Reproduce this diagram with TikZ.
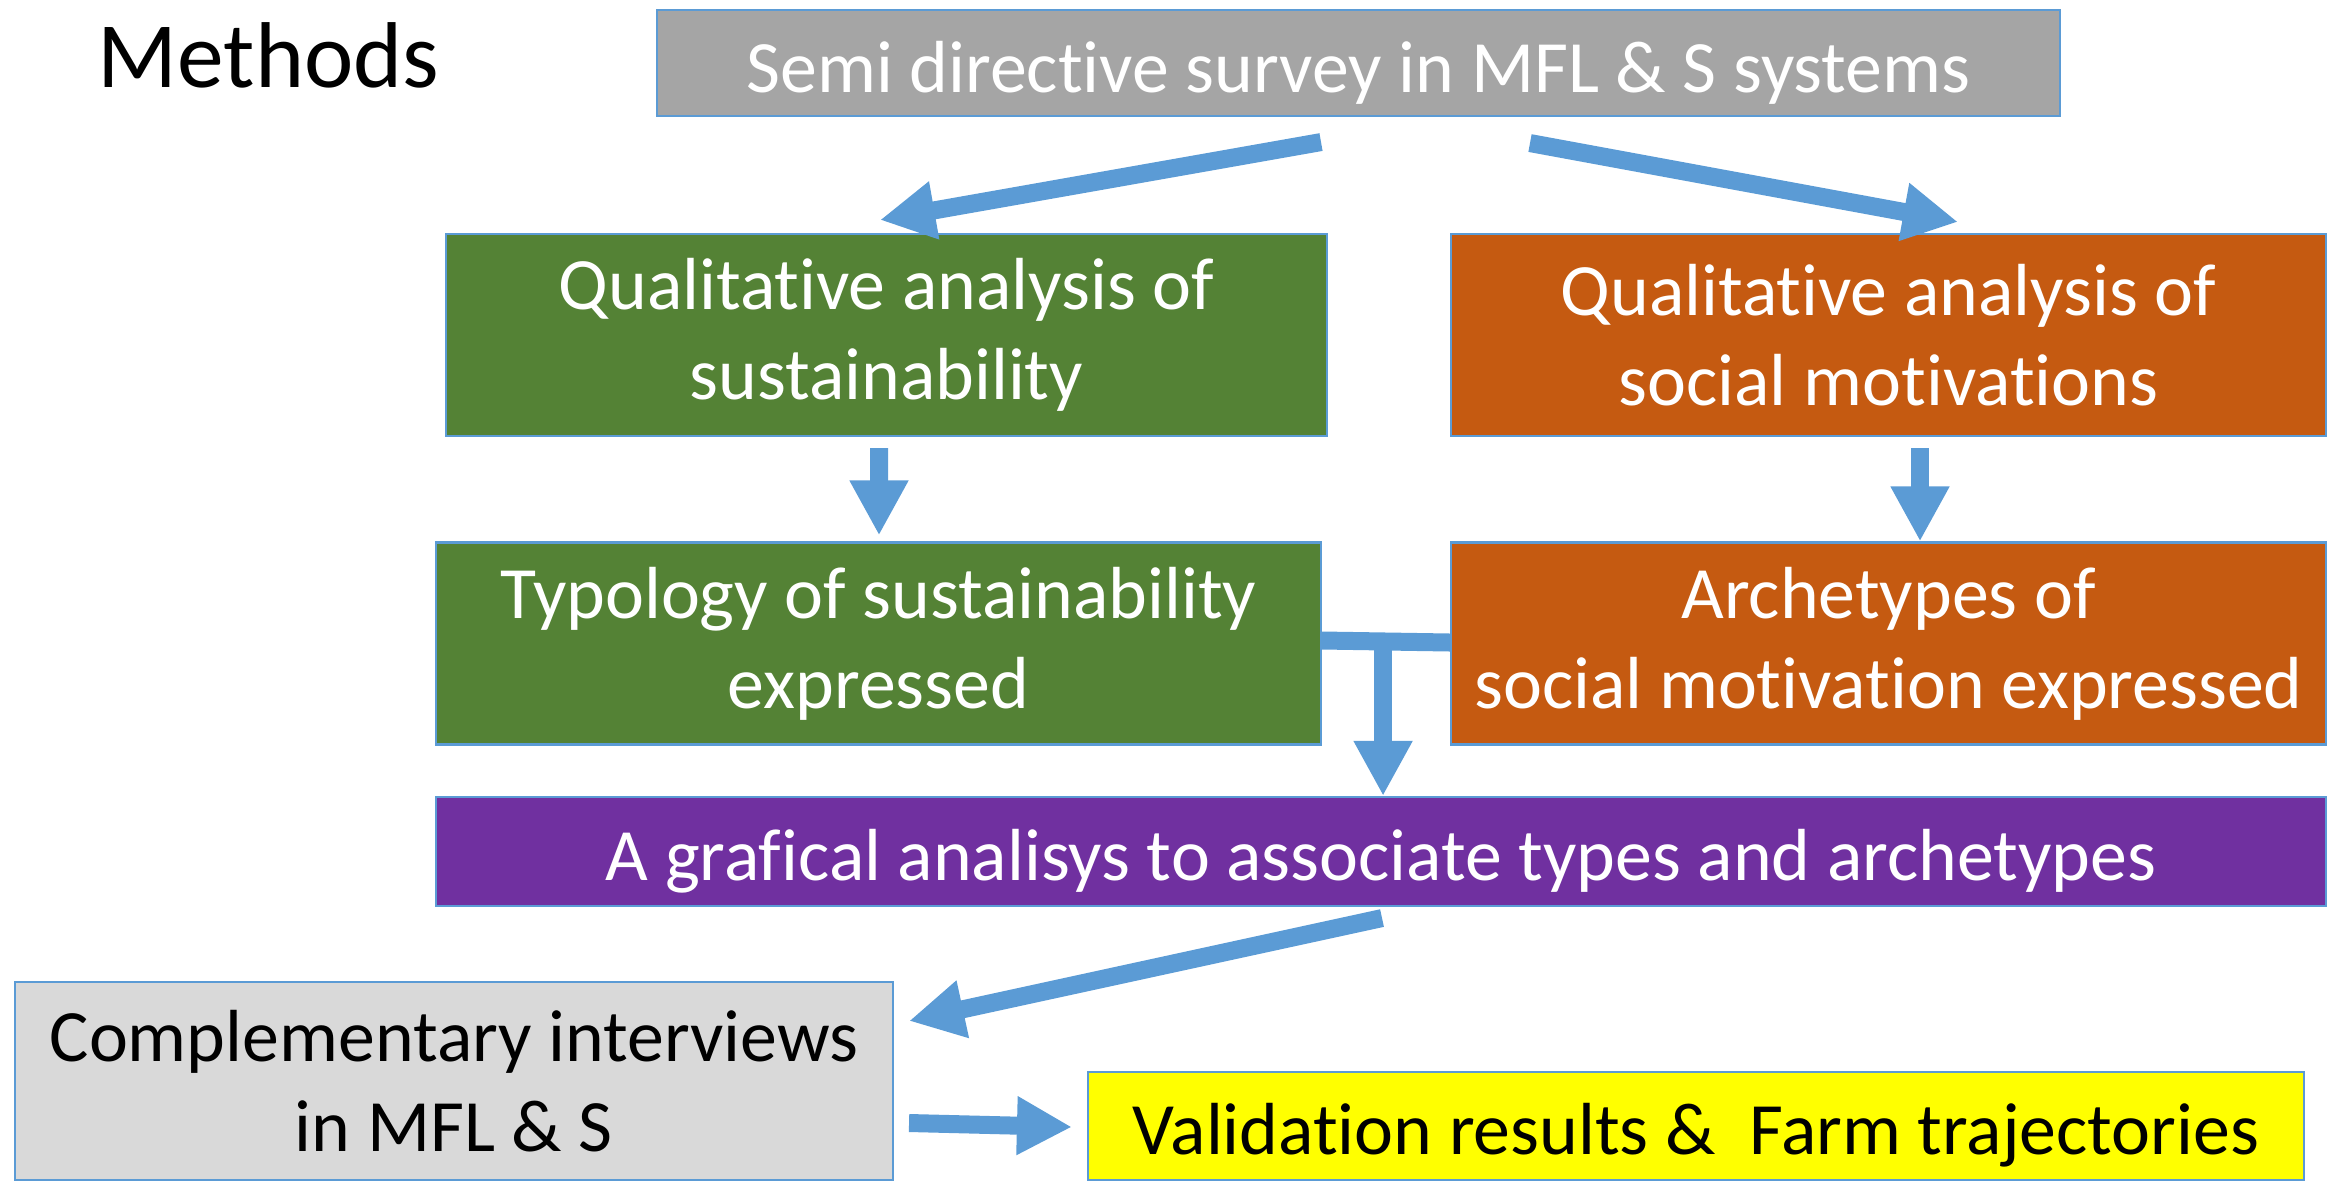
\documentclass[tikz,border=0pt]{standalone}
\usepackage{fontspec}
\setmainfont{Carlito}[Ligatures=NoCommon]
\usepackage{tikz}
\usetikzlibrary{arrows.meta,calc}
\definecolor{flowblue}{HTML}{5B9BD5}
\definecolor{surveygray}{HTML}{A5A5A5}
\definecolor{sustgreen}{HTML}{548235}
\definecolor{motivorange}{HTML}{C55A11}
\definecolor{grafpurple}{HTML}{7030A0}
\definecolor{interlight}{HTML}{D9D9D9}
\definecolor{validyellow}{HTML}{FFFF00}

\begin{document}
\begin{tikzpicture}[
box/.style={rectangle,draw=flowblue,line width=0.6pt,inner sep=0pt,align=center,
  text=white,font=\fontsize{21}{25.6}\selectfont,
  execute at begin node={\rule{0pt}{20pt}}},
tallbox/.style={box,minimum height=2.02cm,execute at begin node={\rule{0pt}{23pt}}},
flow/.style={draw=flowblue,line width=0.18cm,-{Triangle[length=0.55cm,width=0.55cm]}},
%% bar/.style={draw=flowblue,line width=0.18cm}
]
\useasboundingbox (0,0) rectangle (23.41,-11.80);

\node[anchor=base west,inner sep=0pt,font=\fontsize{26.6}{30}\selectfont] (title) at (0.97,-0.87) {Methods};

\node[box,fill=surveygray,minimum width=14.03cm,minimum height=1.06cm] (survey) at (13.585,-0.63)
  {Semi directive survey in MFL \& S systems};
\node[tallbox,fill=sustgreen,minimum width=8.81cm] (qsust) at (8.865,-3.35)
  {Qualitative analysis of\\sustainability};
\node[tallbox,fill=motivorange,minimum width=8.75cm] (qsoc) at (18.885,-3.35)
  {Qualitative analysis of\\social motivations};
\node[tallbox,fill=sustgreen,minimum width=8.85cm] (typo) at (8.785,-6.435)
  {Typology of sustainability\\expressed};
\node[tallbox,fill=motivorange,minimum width=8.75cm] (arch) at (18.885,-6.435)
  {Archetypes of\\social motivation expressed};
\node[box,fill=grafpurple,minimum width=18.90cm,minimum height=1.09cm] (graf) at (13.81,-8.515)
  {A grafical analisys to associate types and archetypes};
\node[box,fill=interlight,text=black,minimum width=8.78cm,minimum height=1.98cm,
  execute at begin node={\rule{0pt}{22pt}}] (compl) at (4.54,-10.81)
  {Complementary interviews\\in MFL \& S};
\node[box,fill=validyellow,text=black,minimum width=12.16cm,minimum height=1.08cm] (valid) at (16.96,-11.26)
  {Validation results \&\ \ Farm trajectories};

\draw[flow] ([xshift=-0.375cm,yshift=-0.25cm]survey.south) -- ([xshift=-0.065cm,yshift=0.13cm]qsust.north);
\draw[flow] ([xshift=1.715cm,yshift=-0.26cm]survey.south) -- ([xshift=0.695cm,yshift=0.11cm]qsoc.north);
\draw[flow] ([xshift=-0.075cm,yshift=-0.11cm]qsust.south) -- ([xshift=0.005cm,yshift=0.06cm]typo.north);
\draw[flow] ([xshift=0.315cm,yshift=-0.11cm]qsoc.south) -- ([xshift=0.315cm]arch.north);

\draw[draw=flowblue,line width=0.18cm] ([yshift=0.03cm]typo.east) -- ([yshift=0.01cm]arch.west);
\coordinate (join) at ($(typo.east)!0.477!(arch.west)$);
\draw[flow] (join) -- (join |- graf.north);

\draw[flow] ([xshift=0.01cm,yshift=-0.11cm]graf.south) -- ([xshift=0.15cm,yshift=-0.40cm]compl.north east);
\draw[flow] ([xshift=0.15cm,yshift=-0.42cm]compl.east) -- ([xshift=-0.15cm,yshift=-0.01cm]valid.west);
\end{tikzpicture}
\end{document}
